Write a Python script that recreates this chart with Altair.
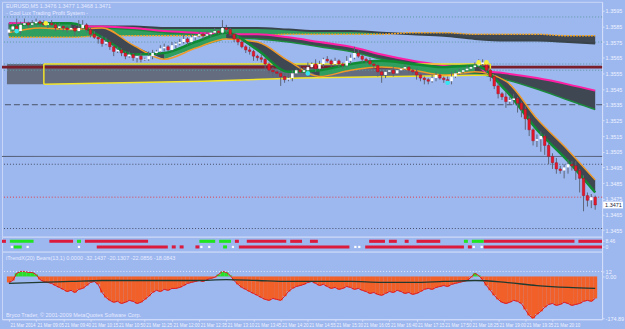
import altair as alt
import pandas as pd
import numpy as np

# ---------------- data ----------------
closes = [
    1.3583, 1.3585, 1.3582, 1.3586, 1.3587, 1.3586, 1.3587, 1.3588, 1.3587, 1.3586,
    1.3587, 1.3586, 1.3584, 1.3585, 1.3584, 1.3583, 1.3584, 1.3582, 1.3584, 1.3586,
    1.3583, 1.3580, 1.3578, 1.3577, 1.3574, 1.3575, 1.3572, 1.3569, 1.3570, 1.3568,
    1.3566, 1.3567, 1.3565, 1.3566, 1.3564, 1.3564, 1.3566, 1.3568, 1.3569, 1.3571,
    1.3572, 1.3570, 1.3573, 1.3574, 1.3575, 1.3577, 1.3575, 1.3578, 1.3579, 1.3580,
    1.3579, 1.3580, 1.3581, 1.3582, 1.3581, 1.3584, 1.3583, 1.3580, 1.3577, 1.3575,
    1.3572, 1.3570, 1.3569, 1.3566, 1.3565, 1.3564, 1.3561, 1.3557, 1.3556, 1.3555,
    1.3553, 1.3551, 1.3552, 1.3555, 1.3557, 1.3556, 1.3557, 1.3559, 1.3561, 1.3558,
    1.3561, 1.3564, 1.3563, 1.3561, 1.3563, 1.3561, 1.3560, 1.3563, 1.3565, 1.3568,
    1.3566, 1.3564, 1.3563, 1.3561, 1.3560, 1.3556, 1.3554, 1.3556, 1.3557, 1.3555,
    1.3557, 1.3558, 1.3559, 1.3557, 1.3556, 1.3554, 1.3552, 1.3551, 1.3550, 1.3552,
    1.3554, 1.3552, 1.3551, 1.3550, 1.3553, 1.3555, 1.3556, 1.3557, 1.3558, 1.3559,
    1.3560, 1.3561, 1.3562, 1.3557, 1.3553, 1.3547, 1.3542, 1.3540, 1.3537, 1.3538,
    1.3539, 1.3536, 1.3532, 1.3526, 1.3519, 1.3512, 1.3513, 1.3515, 1.3509, 1.3502,
    1.3498, 1.3494, 1.3493, 1.3495, 1.3497, 1.3496, 1.3493, 1.3488, 1.3477, 1.3474,
    1.3476, 1.3471,
]
first_open = 1.3581
wick_up = [
    4, 2, 5, 2, 3, 1, 2, 2, 1, 2,
    1, 2, 1, 2, 1, 1, 2, 1, 5, 3,
    1, 1, 2, 1, 2, 3, 1, 1, 2, 1,
    1, 2, 1, 1, 2, 1, 3, 2, 1, 2,
    2, 1, 2, 1, 2, 3, 1, 2, 1, 2,
    1, 2, 1, 2, 1, 5, 2, 1, 1, 2,
    1, 1, 2, 1, 1, 2, 1, 1, 2, 1,
    1, 2, 3, 2, 1, 3, 2, 3, 1, 3,
    2, 1, 2, 1, 2, 1, 1, 3, 2, 4,
    2, 1, 1, 2, 1, 1, 2, 2, 1, 2,
    1, 1, 2, 1, 1, 2, 1, 1, 1, 2,
    2, 1, 1, 2, 3, 2, 2, 1, 2, 1,
    2, 3, 2, 1, 1, 1, 2, 1, 3, 2,
    3, 1, 1, 2, 2, 1, 3, 3, 1, 2,
    2, 3, 2, 2, 3, 2, 3, 1, 2, 2,
    2, 1,
]
wick_dn = [
    2, 2, 1, 2, 1, 2, 1, 2, 2, 1,
    2, 1, 2, 1, 2, 2, 1, 3, 1, 1,
    2, 2, 1, 3, 2, 1, 2, 3, 1, 2,
    2, 1, 2, 3, 2, 1, 1, 2, 1, 1,
    2, 1, 1, 2, 1, 1, 2, 1, 2, 1,
    2, 1, 2, 1, 1, 1, 2, 1, 2, 2,
    1, 2, 2, 3, 2, 2, 3, 2, 3, 2,
    6, 2, 1, 2, 2, 1, 2, 2, 1, 2,
    1, 2, 1, 2, 1, 2, 2, 1, 2, 1,
    1, 2, 2, 1, 2, 3, 5, 2, 2, 2,
    1, 2, 1, 2, 2, 3, 2, 3, 2, 1,
    2, 1, 2, 2, 2, 1, 1, 1, 1, 1,
    1, 1, 1, 2, 3, 2, 3, 2, 4, 2,
    3, 6, 5, 7, 4, 3, 4, 8, 6, 5,
    4, 3, 2, 5, 4, 3, 6, 9, 10, 4,
    5, 3,
]

# moving-average ribbons, sampled every 8 bars
ma_bars = [0, 8, 16, 24, 32, 40, 48, 56, 64, 72, 80, 88, 96, 104, 112, 120, 128, 136, 144, 151]
slow_a = [1.3578, 1.3578, 1.3578, 1.3579, 1.3579, 1.3579, 1.3579, 1.3579, 1.3579, 1.3580,
          1.3580, 1.3580, 1.3580, 1.3581, 1.3581, 1.3580, 1.3580, 1.3580, 1.3579, 1.3579]
slow_b = [1.3587, 1.3586, 1.3585, 1.3585, 1.3585, 1.3584, 1.3584, 1.3584, 1.3584, 1.3583,
          1.3582, 1.3582, 1.3581, 1.3580, 1.3579, 1.3577, 1.3576, 1.3576, 1.3575, 1.3574]
mid_pink = [1.3587, 1.3587, 1.3585, 1.3585, 1.3584, 1.3582, 1.3581, 1.3580, 1.3580, 1.3578,
            1.3575, 1.3572, 1.3567, 1.3563, 1.3560, 1.3557, 1.3555, 1.3552, 1.3548, 1.3544]
mid_low = [1.3586, 1.3586, 1.3584, 1.3584, 1.3583, 1.3581, 1.3580, 1.3578, 1.3577, 1.3575,
           1.3572, 1.3569, 1.3564, 1.3561, 1.3558, 1.3555, 1.3551, 1.3545, 1.3538, 1.3532]
fast_a = [1.3585, 1.3587, 1.3587, 1.3578, 1.3567, 1.3568, 1.3575, 1.3581, 1.3570, 1.3556,
          1.3557, 1.3561, 1.3563, 1.3561, 1.3559, 1.3560, 1.3544, 1.3519, 1.3499, 1.3479]
fast_b = [1.3581, 1.3584, 1.3583, 1.3584, 1.3573, 1.3564, 1.3571, 1.3577, 1.3575, 1.3563,
          1.3553, 1.3557, 1.3559, 1.3557, 1.3554, 1.3556, 1.3550, 1.3526, 1.3506, 1.3487]

# horizontal price levels
level_price = [1.3591, 1.3575, 1.3561, 1.3557, 1.3535, 1.3502, 1.3497, 1.3476, 1.3456]
level_kind = ["teal", "teal", "teal", "teal", "dash", "solid", "dark", "red", "dark"]

# range box
box_bars = [9, 50, 75, 100, 124]
box_top = 1.3561
box_bottom = [1.3548, 1.3550, 1.3552, 1.3553, 1.3554]
shade_start = -0.5
mid_line = 1.3559

# signal markers
marker_bar = [2, 9.5, 77, 113, 121, 123]
marker_price = [1.3582, 1.3587, 1.3555, 1.3549, 1.3562, 1.3562]
marker_kind = ["cyan", "yellow", "cyan", "cyan", "yellow", "yellow"]

# signal bar rows (start bar, end bar, colour code)
row1_runs = [(0, 0, "r"), (2, 7, "g"), (12, 17, "r"), (19, 19, "g"), (21, 36, "r"),
             (50, 53, "g"), (55, 57, "g"), (59, 59, "r"), (62, 71, "r"), (73, 75, "r"),
             (78, 79, "r"), (93, 96, "r"), (98, 99, "r"), (102, 102, "r"), (105, 110, "r"),
             (117, 117, "g"), (119, 121, "g"), (122, 144, "r"), (146, 151, "r")]
row2_runs = [(2, 2, "w"), (3, 4, "g"), (6, 6, "w"), (19, 19, "w"), (24, 41, "r"),
             (43, 43, "r"), (45, 45, "r"), (49, 49, "r"), (50, 50, "w"), (52, 52, "w"),
             (56, 56, "g"), (58, 58, "w"), (60, 87, "r"), (89, 89, "w"), (90, 90, "w"),
             (92, 116, "r"), (118, 118, "r"), (119, 119, "w"), (121, 121, "w"), (122, 151, "r")]

# oscillator histogram (per bar) and its signal line (every 8 bars)
hist = [
    -25, -17, 13, 21, 21, 17, 17, 8, -13, -21,
    -25, -29, -38, -46, -54, -63, -58, -67, -54, -50,
    -38, -25, -21, -33, -67, -88, -100, -108, -104, -113,
    -108, -100, -104, -113, -108, -96, -83, -67, -58, -63,
    -54, -58, -50, -50, -46, -38, -29, -25, -21, -17,
    -21, -13, -8, -4, 8, 21, 17, 4, -17, -33,
    -46, -54, -63, -71, -79, -88, -96, -100, -92, -96,
    -100, -83, -63, -50, -42, -38, -33, -25, -21, -29,
    -38, -33, -42, -50, -46, -54, -50, -42, -46, -54,
    -50, -58, -63, -71, -67, -75, -79, -71, -63, -67,
    -58, -63, -71, -67, -75, -71, -63, -54, -50, -54,
    -46, -42, -38, -42, -33, -29, -25, -21, -17, -4,
    13, 4, -13, -38, -58, -79, -96, -108, -113, -108,
    -100, -104, -113, -138, -163, -175, -158, -146, -129, -117,
    -113, -121, -117, -108, -113, -121, -117, -113, -104, -100,
    -104, -92,
]
signal = [-29, -25, -21, -17, -17, -17, -17, -13, -17, -21,
          -21, -21, -25, -25, -21, -17, -25, -38, -46, -50]
osc_level = 21

price_ticks = [1.3595, 1.3585, 1.3575, 1.3565, 1.3555, 1.3545, 1.3535, 1.3525,
               1.3515, 1.3505, 1.3495, 1.3485, 1.3475, 1.3465, 1.3455]
time_ticks = [0, 7, 14, 21, 28, 35, 42, 49, 56, 63, 70, 77, 84, 91, 98, 105, 112, 119, 126, 133, 140]
time_labels = ["21 Mar 2014", "21 Mar 09:05", "21 Mar 09:40", "21 Mar 10:15", "21 Mar 10:50",
               "21 Mar 11:25", "21 Mar 12:00", "21 Mar 12:35", "21 Mar 13:10", "21 Mar 13:45",
               "21 Mar 14:20", "21 Mar 14:55", "21 Mar 15:30", "21 Mar 16:05", "21 Mar 16:40",
               "21 Mar 17:15", "21 Mar 17:50", "21 Mar 18:25", "21 Mar 19:00", "21 Mar 19:35",
               "21 Mar 20:10"]
header_lines = ["EURUSD,M5  {o} {h} {l} {c}", "- Cool Lux Trading Profit System -"]

# ---------------- style ----------------
BG = "#9db7ef"
W = 603
H_MAIN, H_IND, H_OSC = 236, 15, 68
FONT = "Liberation Sans"
LBL = "#eef3ff"
AXC = "#d3def9"
GREEN = "#2f9e5e"
DARK = "#3f4752"
RED = "#e3182a"

XS = alt.Scale(domain=[-0.5, 151.5], nice=False, zero=False)
YP = alt.Scale(domain=[1.34508, 1.36007], nice=False, zero=False)
YO = alt.Scale(domain=[-179, 104], nice=False, zero=False)

MAIN_AXIS = alt.Axis(orient="right", values=price_ticks, format=".4f", labelFontSize=5.5,
                     labelFont=FONT, labelColor=LBL, tickSize=2, tickColor=AXC,
                     domainColor=AXC, labelPadding=1, grid=False, title=None,
                     labelOverlap=False)
OSC_AXIS = alt.Axis(orient="right", values=[osc_level, 0, -175],
                    labelExpr="datum.value == -175 ? '-174.89' : (datum.value == 0 ? '0.00' : '12')",
                    labelFontSize=5.5, labelFont=FONT, labelColor=LBL, tickSize=2,
                    tickColor=AXC, domainColor=AXC, labelPadding=1, grid=False,
                    title=None, labelOverlap=False)
lab_js = "[" + ",".join("'" + s + "'" for s in time_labels) + "]"
TIME_AXIS = alt.Axis(orient="bottom", values=time_ticks,
                     labelExpr=lab_js + "[round(datum.value / 7)]",
                     labelAlign="left", labelBaseline="top", labelFontSize=4.5,
                     labelFont=FONT, labelColor=LBL, tickSize=2, tickColor=AXC,
                     domainColor=AXC, labelPadding=1.5, labelOffset=1, grid=False, title=None,
                     labelOverlap=False)


def X(field="bar", axis=None):
    return alt.X(f"{field}:Q", scale=XS, axis=axis)


def YM(field):
    return alt.Y(f"{field}:Q", scale=YP, axis=MAIN_AXIS)


def YOs(field):
    return alt.Y(f"{field}:Q", scale=YO, axis=OSC_AXIS)


# ---------------- tables ----------------
N = len(closes)
opens = [first_open] + closes[:-1]
cd = pd.DataFrame({"bar": np.arange(N), "open": opens, "close": closes})
cd["high"] = cd[["open", "close"]].max(axis=1) + np.array(wick_up) / 10000
cd["low"] = cd[["open", "close"]].min(axis=1) - np.array(wick_dn) / 10000
cd["dir"] = np.where(cd["close"] > cd["open"], "up",
                     np.where(cd["close"] < cd["open"], "down", "flat"))


def runs_table(a, b, seg_state):
    rows, run, k, n = [], 0, 0, len(a)
    while k < n - 1:
        s = seg_state[k]
        j = k
        while j < n - 1 and seg_state[j] == s:
            j += 1
        for m in range(k, j + 1):
            rows.append(dict(bar=ma_bars[m], lo=a[m], hi=b[m], run=run, state=s))
        run += 1
        k = j
    return pd.DataFrame(rows)


n_ma = len(ma_bars)
slow_state = ["g" if (slow_a[k] - slow_b[k] + slow_a[k + 1] - slow_b[k + 1]) < 0 else "d"
              for k in range(n_ma - 1)]
fast_state = ["g" if (fast_a[k] - fast_b[k] + fast_a[k + 1] - fast_b[k + 1]) > 0 else "d"
              for k in range(n_ma - 1)]
slow_df = runs_table(slow_a, slow_b, slow_state)
mid_df = runs_table(mid_pink, mid_low, ["d"] * (n_ma - 1))
fast_df = runs_table(fast_a, fast_b, fast_state)
ma_df = pd.DataFrame({"bar": ma_bars, "sa": slow_a, "sb": slow_b, "mp": mid_pink,
                      "ml": mid_low, "fa": fast_a, "fb": fast_b, "sig": signal})

lv = pd.DataFrame({"price": level_price, "kind": level_kind})
shade = pd.DataFrame({"bar": [shade_start] + box_bars,
                      "top": [box_top] * (len(box_bars) + 1),
                      "bot": [box_bottom[0]] + box_bottom})
box = pd.DataFrame({"bar": box_bars, "top": [box_top] * len(box_bars), "bot": box_bottom})
box_sides = box.iloc[[0, -1]]
mk = pd.DataFrame({"bar": marker_bar, "price": marker_price, "kind": marker_kind})
midl = pd.DataFrame({"m": [mid_line]})

last = cd.iloc[-1]
cur = pd.DataFrame({"p": [last["close"]], "top": [last["close"] + 0.00022],
                    "bot": [last["close"] - 0.00022], "t": [f"{last['close']:.4f}"]})
h1 = header_lines[0].format(o=f"{last['open']:.4f}", h=f"{last['high']:.4f}",
                            l=f"{last['low']:.4f}", c=f"{last['close']:.4f}")
h2 = header_lines[1]

# ---------------- main pane ----------------
layers = []
layers.append(alt.Chart(shade).mark_area(color="#646c80").encode(x=X(), y=YM("top"), y2="bot:Q"))
styles = {"teal": ("#5e9aa2", [1, 2], 1), "dash": ("#4a5366", [6, 3], 1),
          "solid": ("#4f586c", [1, 0], 1), "dark": ("#46506a", [1, 2], 1),
          "red": ("#e0404a", [1, 2], 1)}
for k, (c, dash, sw) in styles.items():
    layers.append(alt.Chart(lv).transform_filter(alt.datum.kind == k)
                  .mark_rule(color=c, strokeDash=dash, strokeWidth=sw).encode(y=YM("price")))
layers.append(alt.Chart(midl).mark_rule(color="#7a1e2c", strokeWidth=3).encode(y=YM("m")))


def ribbon(df, colors):
    out = []
    for s, c in colors.items():
        out.append(alt.Chart(df).transform_filter(alt.datum.state == s)
                   .mark_area(interpolate="monotone", color=c)
                   .encode(x=X(), y=YM("lo"), y2="hi:Q", detail="run:N"))
    return out


layers += ribbon(slow_df, {"g": GREEN, "d": DARK})
layers.append(alt.Chart(ma_df).mark_line(interpolate="monotone", color="#39434a", strokeWidth=2)
              .encode(x=X(), y=YM("sb")))
layers.append(alt.Chart(ma_df).mark_line(interpolate="monotone", color="#f0a428",
                                         strokeWidth=1.5, strokeDash=[2, 1])
              .encode(x=X(), y=YM("sa")))
layers += ribbon(mid_df, {"d": DARK})
layers.append(alt.Chart(ma_df).mark_line(interpolate="monotone", color="#1b8a3c", strokeWidth=1.5)
              .encode(x=X(), y=YM("ml")))
layers.append(alt.Chart(ma_df).mark_line(interpolate="monotone", color="#ff1fa5", strokeWidth=2)
              .encode(x=X(), y=YM("mp")))
# box outline
layers.append(alt.Chart(box).mark_line(color="#f2e428", strokeWidth=1.5).encode(x=X(), y=YM("top")))
layers.append(alt.Chart(box).mark_line(color="#f2e428", strokeWidth=1.5).encode(x=X(), y=YM("bot")))
layers.append(alt.Chart(box_sides).mark_rule(color="#f2e428", strokeWidth=1.5)
              .encode(x=X(), y=YM("top"), y2="bot:Q"))
# fast ribbon
layers += ribbon(fast_df, {"g": GREEN, "d": DARK})
layers.append(alt.Chart(ma_df).mark_line(interpolate="monotone", color="#f09a2a", strokeWidth=1.5)
              .encode(x=X(), y=YM("fb")))
layers.append(alt.Chart(ma_df).mark_line(interpolate="monotone", color="#0f8c33", strokeWidth=2.5)
              .encode(x=X(), y=YM("fa")))
# candles
layers.append(alt.Chart(cd).mark_rule(color="#5d6678", strokeWidth=1)
              .encode(x=X(), y=YM("low"), y2="high:Q"))
layers.append(alt.Chart(cd).transform_filter(alt.datum.dir == "down")
              .mark_bar(size=2.6, color=RED, stroke="#a0101c", strokeWidth=0.4)
              .encode(x=X(), y=YM("open"), y2="close:Q"))
layers.append(alt.Chart(cd).transform_filter(alt.datum.dir == "up")
              .mark_bar(size=2.6, color="#ffffff")
              .encode(x=X(), y=YM("open"), y2="close:Q"))
layers.append(alt.Chart(cd).transform_filter(alt.datum.dir == "flat")
              .mark_tick(orient="horizontal", size=3, thickness=1, color="#ffffff")
              .encode(x=X(), y=YM("close")))
# markers
for k, c in {"cyan": "#35e6f2", "yellow": "#f4ee3a"}.items():
    layers.append(alt.Chart(mk).transform_filter(alt.datum.kind == k)
                  .mark_circle(size=22, color=c, opacity=1).encode(x=X(), y=YM("price")))
# header text
layers.append(alt.Chart(pd.DataFrame({"t": [h1]})).mark_text(
    align="left", baseline="middle", font=FONT, fontSize=5.5, color="#e6ecff")
    .encode(x=alt.value(4), y=alt.value(4), text="t:N"))
layers.append(alt.Chart(pd.DataFrame({"t": [h2]})).mark_text(
    align="left", baseline="middle", font=FONT, fontSize=5.5, color="#e6ecff")
    .encode(x=alt.value(4), y=alt.value(11), text="t:N"))
# current price label
layers.append(alt.Chart(cur).mark_rect(color="#ffffff")
              .encode(x=alt.value(W + 1), x2=alt.value(W + 21), y=YM("top"), y2="bot:Q"))
layers.append(alt.Chart(cur).mark_text(align="left", baseline="middle", font=FONT, fontSize=5.5,
                                       color="#1a2440")
              .encode(x=alt.value(W + 3), y=YM("p"), text="t:N"))

main = alt.layer(*layers).properties(width=W, height=H_MAIN)

# ---------------- signal bars pane ----------------
rows = []
for rname, runs in (("r1", row1_runs), ("r2", row2_runs)):
    for s, e, c in runs:
        rows.append(dict(row=rname, x1=s - 0.5, x2=e + 0.5, mid=(s + e) / 2, c=c))
ind = pd.DataFrame(rows)
YR = alt.Y("row:N", scale=alt.Scale(domain=["r1", "r2"], paddingInner=0.45, paddingOuter=0.55),
           axis=alt.Axis(orient="right", labelExpr="datum.value == 'r1' ? '8.46' : '0'",
                         labelFontSize=5, labelFont=FONT, labelColor=LBL, tickSize=2,
                         tickColor=AXC, domainColor=AXC, labelPadding=1, title=None))
ind_layers = []
for c, col in {"r": "#dc1a3c", "g": "#1fe41f"}.items():
    ind_layers.append(alt.Chart(ind).transform_filter(alt.datum.c == c)
                      .mark_rect(color=col)
                      .encode(x=alt.X("x1:Q", scale=XS, axis=None), x2="x2:Q", y=YR))
ind_layers.append(alt.Chart(ind).transform_filter(alt.datum.c == "w")
                  .mark_square(size=5, color="#ffffff", opacity=1)
                  .encode(x=alt.X("mid:Q", scale=XS, axis=None), y=YR))
ind_chart = alt.layer(*ind_layers).properties(width=W, height=H_IND)

# ---------------- oscillator pane ----------------
hd = pd.DataFrame({"bar": np.arange(N), "v": hist})
osc_layers = [
    alt.Chart(hd).transform_filter(alt.datum.v < 0).mark_bar(size=4, color="#f2602a")
    .encode(x=X(axis=TIME_AXIS), y=YOs("v"), y2=alt.datum(0)),
    alt.Chart(hd).transform_filter(alt.datum.v >= 0).mark_bar(size=4, color="#28e028")
    .encode(x=X(axis=TIME_AXIS), y=YOs("v"), y2=alt.datum(0)),
    alt.Chart(hd).mark_line(color="#e0141a", strokeWidth=1).encode(x=X(axis=TIME_AXIS), y=YOs("v")),
    alt.Chart(ma_df).mark_line(interpolate="monotone", color="#203a30", strokeWidth=1.3)
    .encode(x=X(axis=TIME_AXIS), y=YOs("sig")),
    alt.Chart(pd.DataFrame({"lv": [osc_level]})).mark_rule(color="#e4eafc", strokeDash=[1, 2])
    .encode(y=YOs("lv")),
    alt.Chart(pd.DataFrame({"t": ["iTrendX(20) Bears(13,1) 0.0000 -32.1437 -20.1307 -22.0856 -18.0843"]}))
    .mark_text(align="left", baseline="middle", font=FONT, fontSize=5.5, color="#e6ecff")
    .encode(x=alt.value(4), y=alt.value(6), text="t:N"),
    alt.Chart(pd.DataFrame({"t": ["Bryco Trader, \u00a9 2001-2009 MetaQuotes Software Corp."]}))
    .mark_text(align="left", baseline="middle", font=FONT, fontSize=5.5, color="#e6ecff")
    .encode(x=alt.value(4), y=alt.value(64), text="t:N"),
]
osc = alt.layer(*osc_layers).properties(width=W, height=H_OSC)

chart = (alt.vconcat(main, ind_chart, osc, spacing=0, bounds="flush")
         .properties(padding=0)
         .configure(background=BG)
         .configure_view(stroke="#c9d6f7", strokeWidth=1))

chart.save("out.html", embed_options={"renderer": "svg", "actions": False})
